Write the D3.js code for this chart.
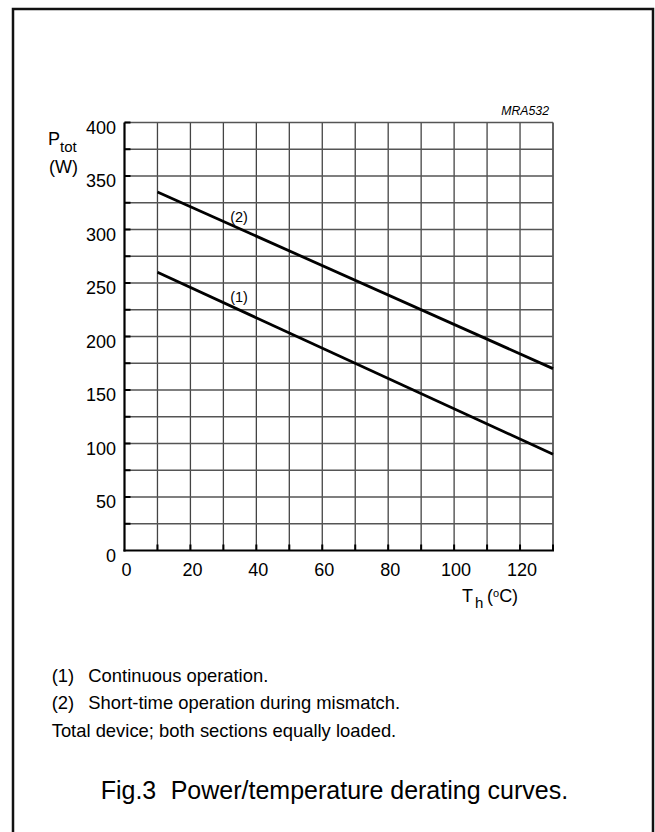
<!DOCTYPE html>
<html>
<head>
<meta charset="utf-8">
<script src="https://cdn.jsdelivr.net/npm/d3@7"></script>
<style>
  body { margin: 0; background: #fff; }
  svg { display: block; font-family: "Liberation Sans", Arial, sans-serif; }
</style>
</head>
<body>
<svg id="chart" width="655" height="832"></svg>
<script>
// values
var tempC = [10, 130];
var continuousW = [260, 90];     // (1)
var shortTimeW = [335, 170];     // (2)
var xTicks = [0, 20, 40, 60, 80, 100, 120];
var yTicks = [0, 50, 100, 150, 200, 250, 300, 350, 400];
var notes = ["Continuous operation.", "Short-time operation during mismatch."];

var svg = d3.select("#chart");

// frame (no bottom edge inside the window)
svg.append("path")
    .attr("d", "M13,840 V9 H653 V840")
    .attr("fill", "none")
    .attr("stroke", "#111")
    .attr("stroke-width", 2.5);

var x = d3.scaleLinear().domain([0, 130]).range([124.5, 553]);
var y = d3.scaleLinear().domain([0, 400]).range([550.5, 122.5]);

var g = svg.append("g");

// grid
g.selectAll(".vgrid")
    .data(d3.range(10, 131, 10))
  .enter().append("line")
    .attr("x1", function(d) { return x(d); })
    .attr("x2", function(d) { return x(d); })
    .attr("y1", y(0))
    .attr("y2", y(400))
    .attr("stroke", function(d) { return d == 130 ? "#111" : "#444"; })
    .attr("stroke-width", 1.3);

g.selectAll(".hgrid")
    .data(d3.range(25, 401, 25))
  .enter().append("line")
    .attr("x1", x(0))
    .attr("x2", x(130))
    .attr("y1", function(d) { return y(d); })
    .attr("y2", function(d) { return y(d); })
    .attr("stroke", "#555")
    .attr("stroke-width", 1.3);

// inner ticks
g.selectAll(".ytick")
    .data(d3.range(25, 401, 25))
  .enter().append("line")
    .attr("x1", x(0))
    .attr("x2", x(0) + 6)
    .attr("y1", function(d) { return y(d); })
    .attr("y2", function(d) { return y(d); })
    .attr("stroke", "#000")
    .attr("stroke-width", 2);

g.selectAll(".xtick")
    .data(d3.range(10, 131, 10))
  .enter().append("line")
    .attr("x1", function(d) { return x(d); })
    .attr("x2", function(d) { return x(d); })
    .attr("y1", y(0))
    .attr("y2", y(0) - 6)
    .attr("stroke", "#000")
    .attr("stroke-width", 2);

// axes lines
g.append("line")
    .attr("x1", x(0)).attr("x2", x(0))
    .attr("y1", y(0) + 1).attr("y2", y(400))
    .attr("stroke", "#000").attr("stroke-width", 2.2);
g.append("line")
    .attr("x1", x(0) - 1).attr("x2", x(130) + 1)
    .attr("y1", y(0)).attr("y2", y(0))
    .attr("stroke", "#000").attr("stroke-width", 2.2);

// tick labels through d3 axes
var xAxis = g.append("g")
    .attr("transform", "translate(0," + y(0) + ")")
    .call(d3.axisBottom(x).tickValues(xTicks).tickSize(0));
xAxis.select(".domain").remove();
xAxis.selectAll("text")
    .attr("y", 25.5).attr("dy", null).attr("dx", 1.5)
    .style("font-size", "18px")
    .style("font-family", "'Liberation Sans', Arial, sans-serif")
    .attr("fill", "#000");

var yAxis = g.append("g")
    .attr("transform", "translate(" + x(0) + ",0)")
    .call(d3.axisLeft(y).tickValues(yTicks).tickSize(0));
yAxis.select(".domain").remove();
yAxis.selectAll("text")
    .attr("x", -8.5).attr("dy", 10.5)
    .style("font-size", "18px")
    .style("font-family", "'Liberation Sans', Arial, sans-serif")
    .attr("fill", "#000");

// curves
var line = d3.line()
    .x(function(d) { return x(d[0]); })
    .y(function(d) { return y(d[1]); });

[continuousW, shortTimeW].forEach(function(s) {
  g.append("path")
      .datum(tempC.map(function(t, i) { return [t, s[i]]; }))
      .attr("d", line)
      .attr("fill", "none")
      .attr("stroke", "#000")
      .attr("stroke-width", 2.8);
});

// curve labels
g.append("text").attr("x", 239).attr("y", 222).attr("text-anchor", "middle")
    .style("font-size", "14.5px").text("(2)");
g.append("text").attr("x", 239).attr("y", 302).attr("text-anchor", "middle")
    .style("font-size", "14.5px").text("(1)");

// code
svg.append("text").attr("x", 549).attr("y", 115).attr("text-anchor", "end")
    .style("font-size", "12.3px").style("font-style", "italic").text("MRA532");

// y title
var yt = svg.append("text").style("font-size", "18px");
yt.append("tspan").attr("x", 48).attr("y", 145).text("P");
yt.append("tspan").attr("x", 60).attr("y", 152).style("font-size", "15px").text("tot");
svg.append("text").attr("x", 49).attr("y", 173).style("font-size", "18px").text("(W)");

// x title
var xt = svg.append("text").style("font-size", "18px");
xt.append("tspan").attr("x", 462).attr("y", 602).text("T");
xt.append("tspan").attr("x", 475).attr("y", 608).style("font-size", "15px").text("h");
xt.append("tspan").attr("x", 487).attr("y", 602).text("(");
xt.append("tspan").attr("y", 597).style("font-size", "11px").text("o");
xt.append("tspan").attr("y", 602).text("C)");

// notes
notes.forEach(function(n, i) {
  svg.append("text").attr("x", 51.7).attr("y", 681.5 + i * 27.6)
      .style("font-size", "18.4px").text("(" + (i + 1) + ")");
  svg.append("text").attr("x", 88.3).attr("y", 681.5 + i * 27.6)
      .style("font-size", "18.4px").text(n);
});
svg.append("text").attr("x", 51.7).attr("y", 736.7)
    .style("font-size", "18.4px").text("Total device; both sections equally loaded.");

// caption
var cap = svg.append("text").attr("y", 799).style("font-size", "25px");
cap.append("tspan").attr("x", 100.7).text("Fig.3");
cap.append("tspan").attr("x", 170.7).text("Power/temperature derating curves.");
</script>
</body>
</html>
